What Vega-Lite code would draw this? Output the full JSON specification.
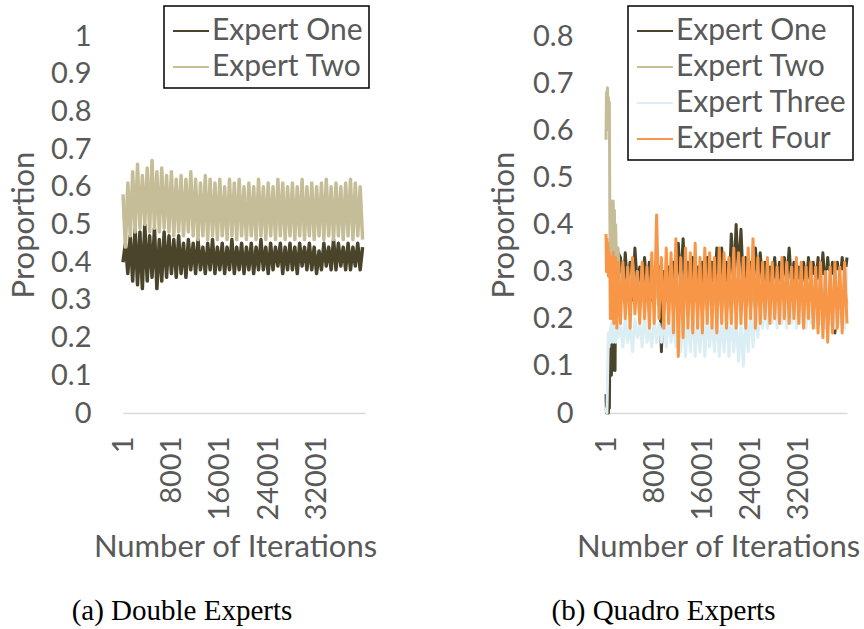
{
"$schema":"https://vega.github.io/schema/vega-lite/v6.json",
"background":"white",
"padding":{"left":8,"top":5,"right":0,"bottom":0},
"bounds":"flush",
"spacing":241,
"config":{"view":{"stroke":null},"font":"Lato",
"axis":{"labelFont":"Lato","labelFontSize":29,"labelColor":"#595959","titleFont":"Lato","titleFontSize":31,"titleColor":"#595959","titleFontWeight":"normal","grid":false,"ticks":false,"domain":false},
"legend":{"strokeColor":"#000000","strokeWidth":1.5,"padding":6,"labelFont":"Lato","labelFontSize":30,"labelColor":"#595959","labelLimit":400,"symbolType":"stroke","symbolSize":1296,"symbolStrokeWidth":2,"symbolOffset":2,"labelOffset":2,"rowPadding":2,"fillColor":"white"},
"title":{"font":"Liberation Serif","fontSize":29,"fontWeight":"normal","color":"#000000"}},
"datasets":{
"a":[
{"x":1,"Expert One":0.40,"Expert Two":0.58},{"x":401,"Expert One":0.45,"Expert Two":0.44},{"x":801,"Expert One":0.37,"Expert Two":0.61},{"x":1201,"Expert One":0.47,"Expert Two":0.47},
{"x":1601,"Expert One":0.35,"Expert Two":0.64},{"x":2001,"Expert One":0.49,"Expert Two":0.48},{"x":2401,"Expert One":0.34,"Expert Two":0.66},{"x":2801,"Expert One":0.48,"Expert Two":0.49},
{"x":3201,"Expert One":0.33,"Expert Two":0.63},{"x":3601,"Expert One":0.50,"Expert Two":0.50},{"x":4001,"Expert One":0.35,"Expert Two":0.65},{"x":4401,"Expert One":0.47,"Expert Two":0.48},
{"x":4801,"Expert One":0.36,"Expert Two":0.67},{"x":5201,"Expert One":0.49,"Expert Two":0.49},{"x":5601,"Expert One":0.33,"Expert Two":0.64},{"x":6001,"Expert One":0.46,"Expert Two":0.48},
{"x":6401,"Expert One":0.35,"Expert Two":0.65},{"x":6801,"Expert One":0.48,"Expert Two":0.49},{"x":7201,"Expert One":0.36,"Expert Two":0.63},{"x":7601,"Expert One":0.47,"Expert Two":0.48},
{"x":8001,"Expert One":0.37,"Expert Two":0.64},{"x":8401,"Expert One":0.46,"Expert Two":0.47},{"x":8801,"Expert One":0.36,"Expert Two":0.62},{"x":9201,"Expert One":0.47,"Expert Two":0.48},
{"x":9601,"Expert One":0.37,"Expert Two":0.63},{"x":10001,"Expert One":0.45,"Expert Two":0.47},{"x":10401,"Expert One":0.36,"Expert Two":0.62},{"x":10801,"Expert One":0.46,"Expert Two":0.48},
{"x":11201,"Expert One":0.38,"Expert Two":0.64},{"x":11601,"Expert One":0.45,"Expert Two":0.47},{"x":12001,"Expert One":0.37,"Expert Two":0.62},{"x":12401,"Expert One":0.46,"Expert Two":0.46},
{"x":12801,"Expert One":0.38,"Expert Two":0.61},{"x":13201,"Expert One":0.44,"Expert Two":0.47},{"x":13601,"Expert One":0.37,"Expert Two":0.63},{"x":14001,"Expert One":0.45,"Expert Two":0.46},
{"x":14401,"Expert One":0.38,"Expert Two":0.62},{"x":14801,"Expert One":0.46,"Expert Two":0.47},{"x":15201,"Expert One":0.37,"Expert Two":0.61},{"x":15601,"Expert One":0.44,"Expert Two":0.46},
{"x":16001,"Expert One":0.38,"Expert Two":0.62},{"x":16401,"Expert One":0.45,"Expert Two":0.47},{"x":16801,"Expert One":0.37,"Expert Two":0.60},{"x":17201,"Expert One":0.44,"Expert Two":0.46},
{"x":17601,"Expert One":0.38,"Expert Two":0.62},{"x":18001,"Expert One":0.46,"Expert Two":0.47},{"x":18401,"Expert One":0.37,"Expert Two":0.61},{"x":18801,"Expert One":0.44,"Expert Two":0.46},
{"x":19201,"Expert One":0.38,"Expert Two":0.62},{"x":19601,"Expert One":0.45,"Expert Two":0.47},{"x":20001,"Expert One":0.37,"Expert Two":0.60},{"x":20401,"Expert One":0.44,"Expert Two":0.46},
{"x":20801,"Expert One":0.38,"Expert Two":0.61},{"x":21201,"Expert One":0.45,"Expert Two":0.47},{"x":21601,"Expert One":0.37,"Expert Two":0.60},{"x":22001,"Expert One":0.44,"Expert Two":0.46},
{"x":22401,"Expert One":0.38,"Expert Two":0.62},{"x":22801,"Expert One":0.46,"Expert Two":0.47},{"x":23201,"Expert One":0.38,"Expert Two":0.60},{"x":23601,"Expert One":0.44,"Expert Two":0.46},
{"x":24001,"Expert One":0.37,"Expert Two":0.61},{"x":24401,"Expert One":0.45,"Expert Two":0.47},{"x":24801,"Expert One":0.38,"Expert Two":0.60},{"x":25201,"Expert One":0.44,"Expert Two":0.46},
{"x":25601,"Expert One":0.39,"Expert Two":0.62},{"x":26001,"Expert One":0.45,"Expert Two":0.47},{"x":26401,"Expert One":0.37,"Expert Two":0.61},{"x":26801,"Expert One":0.44,"Expert Two":0.46},
{"x":27201,"Expert One":0.38,"Expert Two":0.60},{"x":27601,"Expert One":0.45,"Expert Two":0.47},{"x":28001,"Expert One":0.38,"Expert Two":0.61},{"x":28401,"Expert One":0.44,"Expert Two":0.46},
{"x":28801,"Expert One":0.37,"Expert Two":0.60},{"x":29201,"Expert One":0.45,"Expert Two":0.47},{"x":29601,"Expert One":0.39,"Expert Two":0.62},{"x":30001,"Expert One":0.44,"Expert Two":0.46},
{"x":30401,"Expert One":0.38,"Expert Two":0.60},{"x":30801,"Expert One":0.45,"Expert Two":0.47},{"x":31201,"Expert One":0.38,"Expert Two":0.61},{"x":31601,"Expert One":0.44,"Expert Two":0.46},
{"x":32001,"Expert One":0.37,"Expert Two":0.60},{"x":32401,"Expert One":0.43,"Expert Two":0.47},{"x":32801,"Expert One":0.38,"Expert Two":0.61},{"x":33201,"Expert One":0.45,"Expert Two":0.46},
{"x":33601,"Expert One":0.39,"Expert Two":0.62},{"x":34001,"Expert One":0.44,"Expert Two":0.47},{"x":34401,"Expert One":0.38,"Expert Two":0.60},{"x":34801,"Expert One":0.46,"Expert Two":0.46},
{"x":35201,"Expert One":0.38,"Expert Two":0.61},{"x":35601,"Expert One":0.45,"Expert Two":0.47},{"x":36001,"Expert One":0.39,"Expert Two":0.60},{"x":36401,"Expert One":0.44,"Expert Two":0.46},
{"x":36801,"Expert One":0.38,"Expert Two":0.61},{"x":37201,"Expert One":0.45,"Expert Two":0.47},{"x":37601,"Expert One":0.38,"Expert Two":0.62},{"x":38001,"Expert One":0.44,"Expert Two":0.46},
{"x":38401,"Expert One":0.39,"Expert Two":0.61},{"x":38801,"Expert One":0.45,"Expert Two":0.47},{"x":39201,"Expert One":0.38,"Expert Two":0.60},{"x":39601,"Expert One":0.44,"Expert Two":0.46}
],
"b":[
{"x":1,"Expert One":0.04,"Expert Two":0.58,"Expert Three":0.00,"Expert Four":0.38},
{"x":80,"Expert One":0.00,"Expert Two":0.68,"Expert Three":0.01,"Expert Four":0.30},
{"x":160,"Expert One":0.03,"Expert Two":0.62,"Expert Three":0.00,"Expert Four":0.37},
{"x":240,"Expert One":0.01,"Expert Two":0.69,"Expert Three":0.06,"Expert Four":0.30},
{"x":320,"Expert One":0.02,"Expert Two":0.64,"Expert Three":0.12,"Expert Four":0.36},
{"x":400,"Expert One":0.00,"Expert Two":0.67,"Expert Three":0.17,"Expert Four":0.29},
{"x":480,"Expert One":0.03,"Expert Two":0.60,"Expert Three":0.14,"Expert Four":0.34},
{"x":560,"Expert One":0.01,"Expert Two":0.66,"Expert Three":0.17,"Expert Four":0.30},
{"x":640,"Expert One":0.15,"Expert Two":0.42,"Expert Three":0.15,"Expert Four":0.33},
{"x":720,"Expert One":0.09,"Expert Two":0.31,"Expert Three":0.18,"Expert Four":0.20},
{"x":800,"Expert One":0.16,"Expert Two":0.45,"Expert Three":0.15,"Expert Four":0.32},
{"x":900,"Expert One":0.08,"Expert Two":0.30,"Expert Three":0.19,"Expert Four":0.21},
{"x":1000,"Expert One":0.17,"Expert Two":0.44,"Expert Three":0.16,"Expert Four":0.33},
{"x":1100,"Expert One":0.09,"Expert Two":0.32,"Expert Three":0.20,"Expert Four":0.20},
{"x":1200,"Expert One":0.15,"Expert Two":0.45,"Expert Three":0.15,"Expert Four":0.34},
{"x":1300,"Expert One":0.10,"Expert Two":0.30,"Expert Three":0.21,"Expert Four":0.19},
{"x":1400,"Expert One":0.16,"Expert Two":0.43,"Expert Three":0.16,"Expert Four":0.32},
{"x":1500,"Expert One":0.09,"Expert Two":0.31,"Expert Three":0.20,"Expert Four":0.21},
{"x":1600,"Expert One":0.30,"Expert Two":0.40,"Expert Three":0.15,"Expert Four":0.33},
{"x":1800,"Expert One":0.27,"Expert Two":0.28,"Expert Three":0.20,"Expert Four":0.18},
{"x":2000,"Expert One":0.34,"Expert Two":0.35,"Expert Three":0.16,"Expert Four":0.32},
{"x":2400,"Expert One":0.33,"Expert Two":0.24,"Expert Three":0.19,"Expert Four":0.19},
{"x":2800,"Expert One":0.25,"Expert Two":0.31,"Expert Three":0.14,"Expert Four":0.32},
{"x":3200,"Expert One":0.34,"Expert Two":0.23,"Expert Three":0.20,"Expert Four":0.20},
{"x":3600,"Expert One":0.26,"Expert Two":0.30,"Expert Three":0.15,"Expert Four":0.31},
{"x":4000,"Expert One":0.32,"Expert Two":0.25,"Expert Three":0.19,"Expert Four":0.18},
{"x":4400,"Expert One":0.24,"Expert Two":0.32,"Expert Three":0.13,"Expert Four":0.33},
{"x":4800,"Expert One":0.35,"Expert Two":0.24,"Expert Three":0.20,"Expert Four":0.21},
{"x":5200,"Expert One":0.27,"Expert Two":0.30,"Expert Three":0.16,"Expert Four":0.30},
{"x":5600,"Expert One":0.31,"Expert Two":0.22,"Expert Three":0.19,"Expert Four":0.19},
{"x":6000,"Expert One":0.25,"Expert Two":0.31,"Expert Three":0.14,"Expert Four":0.32},
{"x":6400,"Expert One":0.33,"Expert Two":0.23,"Expert Three":0.21,"Expert Four":0.20},
{"x":6800,"Expert One":0.26,"Expert Two":0.29,"Expert Three":0.15,"Expert Four":0.31},
{"x":7200,"Expert One":0.32,"Expert Two":0.24,"Expert Three":0.18,"Expert Four":0.18},
{"x":7600,"Expert One":0.24,"Expert Two":0.30,"Expert Three":0.14,"Expert Four":0.34},
{"x":8000,"Expert One":0.30,"Expert Two":0.22,"Expert Three":0.20,"Expert Four":0.19},
{"x":8400,"Expert One":0.25,"Expert Two":0.28,"Expert Three":0.15,"Expert Four":0.42},
{"x":8800,"Expert One":0.31,"Expert Two":0.23,"Expert Three":0.19,"Expert Four":0.20},
{"x":9200,"Expert One":0.13,"Expert Two":0.29,"Expert Three":0.15,"Expert Four":0.33},
{"x":9600,"Expert One":0.30,"Expert Two":0.22,"Expert Three":0.20,"Expert Four":0.18},
{"x":10000,"Expert One":0.24,"Expert Two":0.30,"Expert Three":0.14,"Expert Four":0.35},
{"x":10400,"Expert One":0.31,"Expert Two":0.21,"Expert Three":0.21,"Expert Four":0.19},
{"x":10800,"Expert One":0.25,"Expert Two":0.29,"Expert Three":0.15,"Expert Four":0.34},
{"x":11200,"Expert One":0.32,"Expert Two":0.23,"Expert Three":0.20,"Expert Four":0.17},
{"x":11600,"Expert One":0.26,"Expert Two":0.28,"Expert Three":0.14,"Expert Four":0.37},
{"x":12000,"Expert One":0.36,"Expert Two":0.22,"Expert Three":0.19,"Expert Four":0.12},
{"x":12400,"Expert One":0.27,"Expert Two":0.30,"Expert Three":0.13,"Expert Four":0.33},
{"x":12800,"Expert One":0.37,"Expert Two":0.21,"Expert Three":0.20,"Expert Four":0.16},
{"x":13200,"Expert One":0.26,"Expert Two":0.29,"Expert Three":0.12,"Expert Four":0.35},
{"x":13600,"Expert One":0.32,"Expert Two":0.22,"Expert Three":0.21,"Expert Four":0.18},
{"x":14000,"Expert One":0.25,"Expert Two":0.28,"Expert Three":0.13,"Expert Four":0.34},
{"x":14400,"Expert One":0.33,"Expert Two":0.23,"Expert Three":0.22,"Expert Four":0.17},
{"x":14800,"Expert One":0.24,"Expert Two":0.29,"Expert Three":0.12,"Expert Four":0.36},
{"x":15200,"Expert One":0.31,"Expert Two":0.22,"Expert Three":0.20,"Expert Four":0.18},
{"x":15600,"Expert One":0.25,"Expert Two":0.27,"Expert Three":0.13,"Expert Four":0.33},
{"x":16000,"Expert One":0.32,"Expert Two":0.21,"Expert Three":0.22,"Expert Four":0.17},
{"x":16400,"Expert One":0.26,"Expert Two":0.28,"Expert Three":0.12,"Expert Four":0.35},
{"x":16800,"Expert One":0.33,"Expert Two":0.22,"Expert Three":0.21,"Expert Four":0.19},
{"x":17200,"Expert One":0.25,"Expert Two":0.27,"Expert Three":0.14,"Expert Four":0.34},
{"x":17600,"Expert One":0.32,"Expert Two":0.23,"Expert Three":0.20,"Expert Four":0.18},
{"x":18000,"Expert One":0.26,"Expert Two":0.28,"Expert Three":0.13,"Expert Four":0.33},
{"x":18400,"Expert One":0.35,"Expert Two":0.22,"Expert Three":0.21,"Expert Four":0.17},
{"x":18800,"Expert One":0.27,"Expert Two":0.26,"Expert Three":0.12,"Expert Four":0.35},
{"x":19200,"Expert One":0.35,"Expert Two":0.22,"Expert Three":0.20,"Expert Four":0.19},
{"x":19600,"Expert One":0.26,"Expert Two":0.27,"Expert Three":0.13,"Expert Four":0.34},
{"x":20000,"Expert One":0.32,"Expert Two":0.21,"Expert Three":0.22,"Expert Four":0.18},
{"x":20400,"Expert One":0.25,"Expert Two":0.26,"Expert Three":0.12,"Expert Four":0.33},
{"x":20800,"Expert One":0.38,"Expert Two":0.22,"Expert Three":0.21,"Expert Four":0.19},
{"x":21200,"Expert One":0.28,"Expert Two":0.27,"Expert Three":0.13,"Expert Four":0.35},
{"x":21600,"Expert One":0.40,"Expert Two":0.23,"Expert Three":0.20,"Expert Four":0.18},
{"x":22000,"Expert One":0.29,"Expert Two":0.26,"Expert Three":0.11,"Expert Four":0.34},
{"x":22400,"Expert One":0.39,"Expert Two":0.22,"Expert Three":0.19,"Expert Four":0.19},
{"x":22800,"Expert One":0.27,"Expert Two":0.27,"Expert Three":0.10,"Expert Four":0.33},
{"x":23200,"Expert One":0.33,"Expert Two":0.23,"Expert Three":0.21,"Expert Four":0.18},
{"x":23600,"Expert One":0.26,"Expert Two":0.26,"Expert Three":0.13,"Expert Four":0.35},
{"x":24000,"Expert One":0.32,"Expert Two":0.22,"Expert Three":0.22,"Expert Four":0.20},
{"x":24400,"Expert One":0.27,"Expert Two":0.27,"Expert Three":0.14,"Expert Four":0.37},
{"x":24800,"Expert One":0.35,"Expert Two":0.22,"Expert Three":0.22,"Expert Four":0.18},
{"x":25200,"Expert One":0.28,"Expert Two":0.27,"Expert Three":0.16,"Expert Four":0.33},
{"x":25600,"Expert One":0.34,"Expert Two":0.23,"Expert Three":0.24,"Expert Four":0.19},
{"x":26000,"Expert One":0.27,"Expert Two":0.26,"Expert Three":0.18,"Expert Four":0.32},
{"x":26400,"Expert One":0.32,"Expert Two":0.22,"Expert Three":0.25,"Expert Four":0.20},
{"x":26800,"Expert One":0.26,"Expert Two":0.27,"Expert Three":0.18,"Expert Four":0.33},
{"x":27200,"Expert One":0.31,"Expert Two":0.23,"Expert Three":0.26,"Expert Four":0.19},
{"x":27600,"Expert One":0.27,"Expert Two":0.26,"Expert Three":0.19,"Expert Four":0.32},
{"x":28000,"Expert One":0.33,"Expert Two":0.22,"Expert Three":0.27,"Expert Four":0.20},
{"x":28400,"Expert One":0.26,"Expert Two":0.27,"Expert Three":0.18,"Expert Four":0.31},
{"x":28800,"Expert One":0.32,"Expert Two":0.23,"Expert Three":0.26,"Expert Four":0.19},
{"x":29200,"Expert One":0.27,"Expert Two":0.26,"Expert Three":0.19,"Expert Four":0.33},
{"x":29600,"Expert One":0.33,"Expert Two":0.22,"Expert Three":0.27,"Expert Four":0.20},
{"x":30000,"Expert One":0.28,"Expert Two":0.27,"Expert Three":0.18,"Expert Four":0.32},
{"x":30400,"Expert One":0.35,"Expert Two":0.23,"Expert Three":0.28,"Expert Four":0.19},
{"x":30800,"Expert One":0.27,"Expert Two":0.26,"Expert Three":0.19,"Expert Four":0.31},
{"x":31200,"Expert One":0.32,"Expert Two":0.22,"Expert Three":0.27,"Expert Four":0.20},
{"x":31600,"Expert One":0.26,"Expert Two":0.27,"Expert Three":0.18,"Expert Four":0.33},
{"x":32000,"Expert One":0.31,"Expert Two":0.23,"Expert Three":0.28,"Expert Four":0.19},
{"x":32400,"Expert One":0.27,"Expert Two":0.26,"Expert Three":0.19,"Expert Four":0.32},
{"x":32800,"Expert One":0.32,"Expert Two":0.22,"Expert Three":0.27,"Expert Four":0.18},
{"x":33200,"Expert One":0.26,"Expert Two":0.27,"Expert Three":0.18,"Expert Four":0.31},
{"x":33600,"Expert One":0.33,"Expert Two":0.23,"Expert Three":0.28,"Expert Four":0.20},
{"x":34000,"Expert One":0.27,"Expert Two":0.26,"Expert Three":0.19,"Expert Four":0.32},
{"x":34400,"Expert One":0.32,"Expert Two":0.22,"Expert Three":0.29,"Expert Four":0.18},
{"x":34800,"Expert One":0.26,"Expert Two":0.27,"Expert Three":0.18,"Expert Four":0.31},
{"x":35200,"Expert One":0.33,"Expert Two":0.23,"Expert Three":0.28,"Expert Four":0.17},
{"x":35600,"Expert One":0.27,"Expert Two":0.26,"Expert Three":0.19,"Expert Four":0.32},
{"x":36000,"Expert One":0.34,"Expert Two":0.22,"Expert Three":0.29,"Expert Four":0.16},
{"x":36400,"Expert One":0.26,"Expert Two":0.27,"Expert Three":0.18,"Expert Four":0.30},
{"x":36800,"Expert One":0.33,"Expert Two":0.23,"Expert Three":0.30,"Expert Four":0.15},
{"x":37200,"Expert One":0.27,"Expert Two":0.26,"Expert Three":0.19,"Expert Four":0.31},
{"x":37600,"Expert One":0.32,"Expert Two":0.22,"Expert Three":0.29,"Expert Four":0.17},
{"x":38000,"Expert One":0.17,"Expert Two":0.27,"Expert Three":0.18,"Expert Four":0.32},
{"x":38400,"Expert One":0.32,"Expert Two":0.23,"Expert Three":0.30,"Expert Four":0.18},
{"x":38800,"Expert One":0.27,"Expert Two":0.26,"Expert Three":0.19,"Expert Four":0.31},
{"x":39200,"Expert One":0.33,"Expert Two":0.22,"Expert Three":0.30,"Expert Four":0.17},
{"x":39600,"Expert One":0.28,"Expert Two":0.27,"Expert Three":0.18,"Expert Four":0.32},
{"x":40000,"Expert One":0.33,"Expert Two":0.23,"Expert Three":0.31,"Expert Four":0.19}
]},
"hconcat":[
{"width":242,"height":377,
"title":{"text":"(a) Double Experts","orient":"bottom","anchor":"middle","frame":"group","dx":-62,"offset":35},
"data":{"name":"a"},
"transform":[{"fold":["Expert One","Expert Two"],"as":["Series","Proportion"]}],
"mark":{"type":"line","strokeWidth":3.5,"strokeJoin":"round"},
"encoding":{
"x":{"field":"x","type":"quantitative","scale":{"domain":[1,40000],"nice":false,"zero":false},
"axis":{"title":"Number of Iterations","values":[1,8001,16001,24001,32001],"format":"d","labelAngle":-90,"labelAlign":"right","labelBaseline":"middle","labelPadding":23,"labelFlush":false,"labelOverlap":false,"domain":true,"domainColor":"#d9d9d9","domainWidth":1.5,"titlePadding":12,"titleX":112}},
"y":{"field":"Proportion","type":"quantitative","scale":{"domain":[0,1],"nice":false},
"axis":{"title":"Proportion","values":[0,0.1,0.2,0.3,0.4,0.5,0.6,0.7,0.8,0.9,1],"format":"~g","labelPadding":32,"titlePadding":10}},
"color":{"field":"Series","type":"nominal","scale":{"domain":["Expert One","Expert Two"],"range":["#4a452a","#c4bd97"]},
"legend":{"title":null,"orient":"none","legendX":41,"legendY":-30}}}},
{"width":241,"height":377,
"title":{"text":"(b) Quadro Experts","orient":"bottom","anchor":"middle","frame":"group","dx":-63,"offset":35},
"data":{"name":"b"},
"transform":[{"fold":["Expert One","Expert Two","Expert Three","Expert Four"],"as":["Series","Proportion"]}],
"mark":{"type":"line","strokeWidth":3,"strokeJoin":"round"},
"encoding":{
"x":{"field":"x","type":"quantitative","scale":{"domain":[1,40000],"nice":false,"zero":false},
"axis":{"title":"Number of Iterations","values":[1,8001,16001,24001,32001],"format":"d","labelAngle":-90,"labelAlign":"right","labelBaseline":"middle","labelPadding":23,"labelFlush":false,"labelOverlap":false,"domain":true,"domainColor":"#d9d9d9","domainWidth":1.5,"titlePadding":12,"titleX":112}},
"y":{"field":"Proportion","type":"quantitative","scale":{"domain":[0,0.8],"nice":false},
"axis":{"title":"Proportion","values":[0,0.1,0.2,0.3,0.4,0.5,0.6,0.7,0.8],"format":"~g","labelPadding":33,"titlePadding":12}},
"color":{"field":"Series","type":"nominal","scale":{"domain":["Expert One","Expert Two","Expert Three","Expert Four"],"range":["#4a452a","#c4bd97","#dbeef4","#f79646"]},
"legend":{"title":null,"orient":"none","legendX":22,"legendY":-30}}}}
],
"resolve":{"scale":{"color":"independent","y":"independent","x":"independent"},"legend":{"color":"independent"}}
}
